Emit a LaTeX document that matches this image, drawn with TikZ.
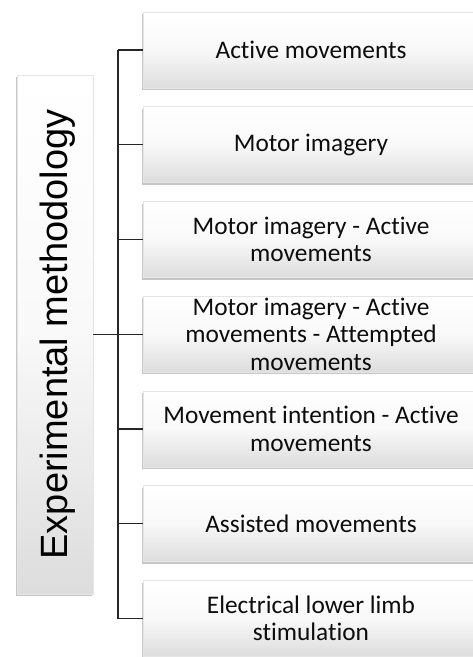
\documentclass[tikz,border=0pt]{standalone}
\usepackage{fontspec}
\setmainfont{Carlito}[Ligatures=NoCommon]
\newfontfamily\methfont{Liberation Sans}
\usetikzlibrary{shadows}

\newlength{\du}
\setlength{\du}{0.75pt}

\definecolor{boxshade}{rgb}{0.865000, 0.865000, 0.865000}
\definecolor{boxmid}{rgb}{0.975000, 0.975000, 0.975000}
\definecolor{linecolor}{rgb}{0.150000, 0.150000, 0.150000}
\definecolor{labelcolor}{rgb}{0.050000, 0.050000, 0.050000}

\tikzset{
  boxbase/.style={rectangle, inner sep=0pt, draw=black!10, line width=0.4pt,
    top color=white, bottom color=boxshade, middle color=boxmid,
    drop shadow={shadow xshift=-0.5pt, shadow yshift=-1.6pt, opacity=0.45}},
  methbox/.style={boxbase, minimum width=336\du, minimum height=76\du,
    align=center, text=labelcolor, font=\fontsize{19}{20.6}\selectfont},
  titlebox/.style={boxbase, minimum width=76\du, minimum height=519\du,
    text=black, font=\methfont\fontsize{28.5}{30}\selectfont},
  branch/.style={draw=linecolor, line width=1.1pt},
}

\begin{document}
\begin{tikzpicture}[x=1\du, y=-1\du]
\useasboundingbox (0,0) rectangle (473,657);

% left title
\node[titlebox] (meth) at (55,334.5)
  {\rotatebox{90}{\raisebox{-3\du}[\height][\depth]{Experimental methodology}}};

% boxes on the right
\node[methbox] (act) at (311,50) {Active movements};
\node[methbox] (imag) at (311,144.75) {Motor imagery};
\node[methbox] (imagact) at (311,239.5) {Motor imagery - Active\\movements};
\node[methbox] (imagatt) at (311,334.25) {Motor imagery - Active\\movements - Attempted\\movements};
\node[methbox] (intent) at (311,429) {Movement intention - Active\\movements};
\node[methbox] (assist) at (311,523.75) {Assisted movements};
\node[methbox] (elec) at (311,618.5) {Electrical lower limb\\stimulation};

% tree
\coordinate (trunk) at (118,334.5);
\draw[branch] (meth.east) -- (trunk);
\draw[branch] (trunk |- act.west) -- (trunk |- elec.west);
\draw[branch] (trunk |- act.west) -- (act.west);
\draw[branch] (trunk |- imag.west) -- (imag.west);
\draw[branch] (trunk |- imagact.west) -- (imagact.west);
\draw[branch] (trunk |- imagatt.west) -- (imagatt.west);
\draw[branch] (trunk |- intent.west) -- (intent.west);
\draw[branch] (trunk |- assist.west) -- (assist.west);
\draw[branch] (trunk |- elec.west) -- (elec.west);
\end{tikzpicture}
\end{document}
